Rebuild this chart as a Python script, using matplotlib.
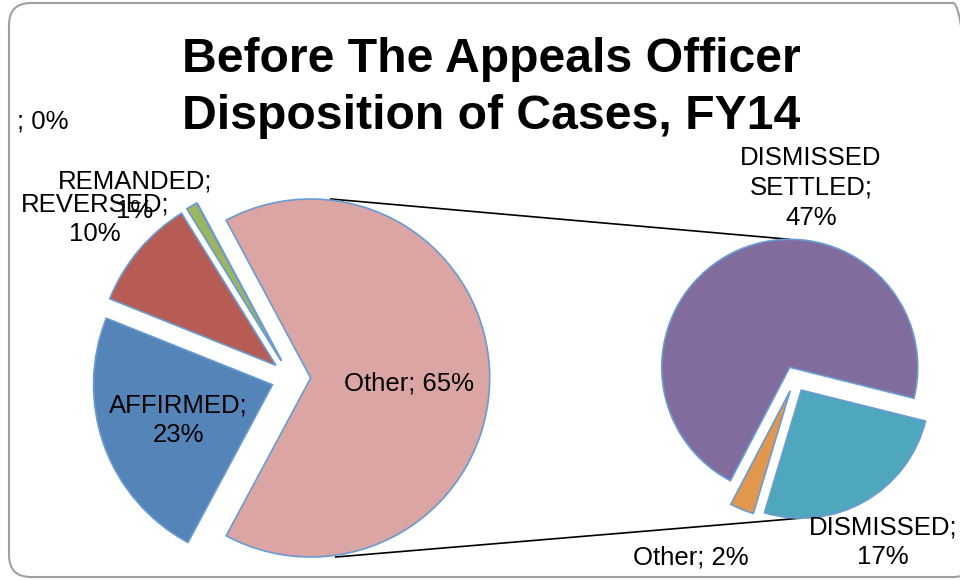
import numpy as np
import matplotlib
matplotlib.use('Agg')
import matplotlib.pyplot as plt
from matplotlib.patches import FancyBboxPatch

# left pie: "Other" is split out into the right pie
left_labels = ['Other', '', 'REMANDED', 'REVERSED', 'AFFIRMED']
left_values = [65, 0, 1, 10, 23]
left_colors = ['#DAA5A3', '#826C9E', '#9BB65E', '#B75B55', '#5585B8']

right_labels = ['DISMISSED SETTLED', 'Other', 'DISMISSED']
right_values = [47, 2, 17]
right_colors = ['#826C9E', '#E2974F', '#4FA7BE']

title_lines = ['Before The Appeals Officer', 'Disposition of Cases, FY14']

W, H = 960, 580
plt.rcParams['font.family'] = ['Liberation Sans', 'DejaVu Sans']

fig = plt.figure(figsize=(W / 100, H / 100), dpi=100)
ax = fig.add_axes([0, 0, 1, 1])

def py(y):
    # picture rows run downward, axes y runs up
    return H - y

edge = dict(edgecolor='#6A9BD1', linewidth=1.2)

# left pie (explode is in data units, i.e. pixels here)
lc = (291, py(378))
lr = 179
lex = 0.11 * lr
lstart = -left_values[0] / sum(left_values) * 180
ax.pie(left_values, colors=left_colors, center=lc, radius=lr, startangle=lstart,
       explode=[lex] * len(left_values), wedgeprops=edge, frame=True)

# right pie
rc = (795, py(379))
rr = 128
rex = 0.1 * rr
rstart = -14
ax.pie(right_values, colors=right_colors, center=rc, radius=rr, startangle=rstart,
       explode=[rex] * len(right_values), wedgeprops=edge, frame=True)

# connector lines, from the split slice to the second pie
other_apex = (lc[0] + lex, lc[1])
tot = sum(right_values)
a0 = rstart
mids = []
for v in right_values:
    a1 = a0 + v / tot * 360
    mids.append(np.radians((a0 + a1) / 2))
    a0 = a1
top_apex = (rc[0] + rex * np.cos(mids[0]), rc[1] + rex * np.sin(mids[0]))
bot_apex = (rc[0] + rex * np.cos(mids[2]), rc[1] + rex * np.sin(mids[2]))
ax.plot([other_apex[0] + 20, top_apex[0]], [other_apex[1] + lr, top_apex[1] + rr],
        color='black', lw=1.2, zorder=0.5)
ax.plot([other_apex[0] + 25, bot_apex[0]], [other_apex[1] - lr, bot_apex[1] - rr],
        color='black', lw=1.2, zorder=0.5)

# data labels
fs = 18.5
ls = 1.3
ax.text(17, py(122), '; 0%', fontsize=fs, ha='left', va='center')
ax.text(135, py(196), 'REMANDED;\n1%', fontsize=fs, ha='center', va='center',
        linespacing=ls, multialignment='center')
ax.text(95, py(219), 'REVERSED;\n10%', fontsize=fs, ha='center', va='center',
        linespacing=ls, multialignment='center')
ax.text(178, py(420), 'AFFIRMED;\n23%', fontsize=fs, ha='center', va='center',
        linespacing=ls, multialignment='center')
ax.text(409, py(383), 'Other; 65%', fontsize=fs, ha='center', va='center')
ax.text(811, py(188), 'DISMISSED\nSETTLED;\n47%', fontsize=fs, ha='center',
        va='center', linespacing=ls, multialignment='center')
ax.text(883, py(542), 'DISMISSED;\n17%', fontsize=fs, ha='center', va='center',
        linespacing=ls, multialignment='center')
ax.text(691, py(557), 'Other; 2%', fontsize=fs, ha='center', va='center')

# title
ax.text(491, py(72), title_lines[0], fontsize=34.7, fontweight='bold',
        ha='center', va='baseline')
ax.text(491, py(129), title_lines[1], fontsize=34.7, fontweight='bold',
        ha='center', va='baseline')

# rounded chart border
border = FancyBboxPatch((9, 3), 966, 574, boxstyle='round,pad=0,rounding_size=22',
                        facecolor='none', edgecolor='#A0A0A0', linewidth=1.5)
ax.add_patch(border)

ax.set_xlim(0, W)
ax.set_ylim(0, H)
ax.set_aspect('equal')
ax.axis('off')

fig.savefig('out.png', dpi=100)
